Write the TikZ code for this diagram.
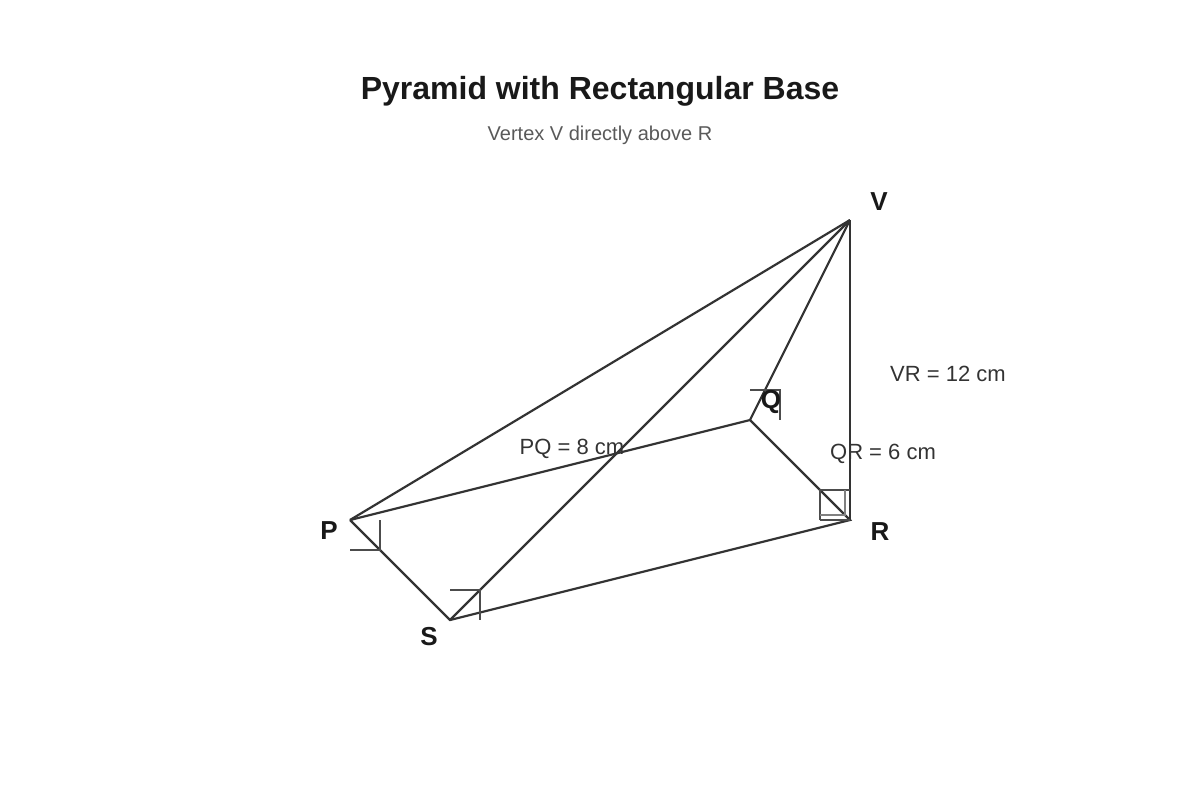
\documentclass[tikz,border=0pt]{standalone}
\usepackage{fontspec}
\setmainfont{Liberation Sans}
\begin{document}
\begin{tikzpicture}[x=0.5pt,y=-0.5pt,
        edge/.style={draw=black!80,line width=1.1pt},
        rmark/.style={draw=black!70,line width=0.6pt},
        vlabel/.style={font=\fontsize{13}{15}\selectfont\bfseries,text=black!90},
        dim/.style={font=\fontsize{11}{13}\selectfont,text=black!80}]
    \useasboundingbox (0,0) rectangle (1200,800);

    \node[font=\fontsize{16}{20}\selectfont\bfseries,text=black!90] (title) at (600,91) {Pyramid with Rectangular Base};
    \node[font=\fontsize{10}{13}\selectfont,text=black!65] (sub) at (600,135) {Vertex V directly above R};

    \coordinate (P) at (350,520);
    \coordinate (Q) at (750,420);
    \coordinate (R) at (850,520);
    \coordinate (S) at (450,620);
    \coordinate (V) at (850,220);

    % base and slant edges
    \draw[edge] (P) -- (Q) -- (R) -- (S) -- (P);
    \draw[edge] (V) -- (P);
    \draw[edge] (V) -- (S);
    \draw[edge] (V) -- (Q);
    \draw[edge] (V) -- (R);

    % right angle marks
    \draw[rmark] (350,550) -- (380,550) -- (380,520);
    \draw[rmark] (450,590) -- (480,590) -- (480,620);
    \draw[rmark] (750,390) -- (780,390) -- (780,420);
    \draw[rmark] (820,520) -- (820,490) -- (850,490);
    \draw[rmark] (820,520) -- (850,520);
    \draw[rmark,draw=black!50] (820,515) -- (845,515) -- (845,490);

    \node[vlabel] (lP) at (329,531) {P};
    \node[vlabel] (lQ) at (771,402) {Q};
    \node[vlabel] (lR) at (880,532) {R};
    \node[vlabel] (lS) at (429,637) {S};
    \node[vlabel] (lV) at (879,202) {V};

    \node[dim] (pq) at (572,449) {PQ = 8 cm};
    \node[dim] (qr) at (883,454) {QR = 6 cm};
    \node[dim] (vr) at (948,374) {VR = 12 cm};
\end{tikzpicture}
\end{document}
